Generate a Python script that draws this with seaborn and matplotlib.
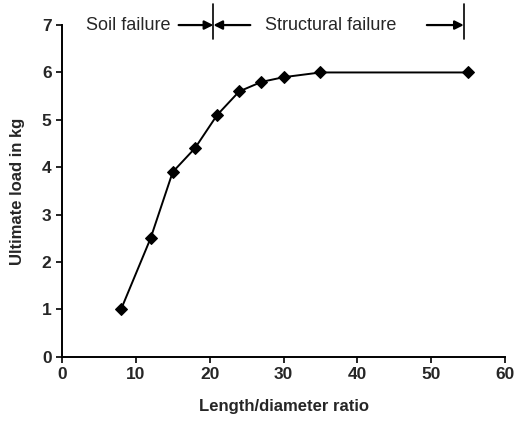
import matplotlib
matplotlib.use("Agg")
import matplotlib.pyplot as plt
import seaborn as sns
import pandas as pd

# data
ld_ratio = [8, 12, 15, 18, 21, 24, 27, 30, 35, 55]
ult_load = [1.0, 2.5, 3.9, 4.4, 5.1, 5.6, 5.8, 5.9, 6.0, 6.0]
x_ticks = [0, 10, 20, 30, 40, 50, 60]
y_ticks = [0, 1, 2, 3, 4, 5, 6, 7]
zone_bounds = [20.5, 54.4]

sns.set_style("ticks")
plt.rcParams["font.family"] = ["Liberation Sans Narrow", "Liberation Sans", "DejaVu Sans"]

df = pd.DataFrame({"ratio": ld_ratio, "load": ult_load})

fig = plt.figure(figsize=(5.16, 4.32), dpi=100)
ax = fig.add_axes([0.120, 0.174, 0.859, 0.768])

sns.lineplot(data=df, x="ratio", y="load", ax=ax, color="black", linewidth=1.4,
             marker="D", markersize=6, markeredgecolor="black", markerfacecolor="black")

ax.set_xlim(0, 60)
ax.set_ylim(0, 7)
ax.set_xticks(x_ticks)
ax.set_yticks(y_ticks)
ax.tick_params(axis="both", direction="out", length=4, width=1.2, labelsize=12.5, color="black")
for lab in ax.get_xticklabels() + ax.get_yticklabels():
    lab.set_fontweight("bold")
ax.set_xlabel("Length/diameter ratio", fontsize=12, fontweight="bold", labelpad=12)
ax.set_ylabel("Ultimate load in kg", fontsize=12, fontweight="bold", labelpad=12)
sns.despine(ax=ax)
for sp in ["left", "bottom"]:
    ax.spines[sp].set_linewidth(1.4)
    ax.spines[sp].set_color("black")

# zone markers
for xb in zone_bounds:
    ax.plot([xb, xb], [6.7, 7.45], color="black", linewidth=1.2, clip_on=False)

ax.text(3.3, 7.0, "Soil failure", fontsize=13, va="center", ha="left")
ax.text(27.5, 7.0, "Structural failure", fontsize=13, va="center", ha="left")
arrow = dict(arrowstyle="-|>", color="black", lw=1.6, mutation_scale=13, shrinkA=0, shrinkB=0)
ax.annotate("", xy=(zone_bounds[0], 7.0), xytext=(15.8, 7.0), arrowprops=arrow, annotation_clip=False)
ax.annotate("", xy=(zone_bounds[0], 7.0), xytext=(25.5, 7.0), arrowprops=arrow, annotation_clip=False)
ax.annotate("", xy=(zone_bounds[1], 7.0), xytext=(49.4, 7.0), arrowprops=arrow, annotation_clip=False)

fig.savefig("out.png", dpi=100)
